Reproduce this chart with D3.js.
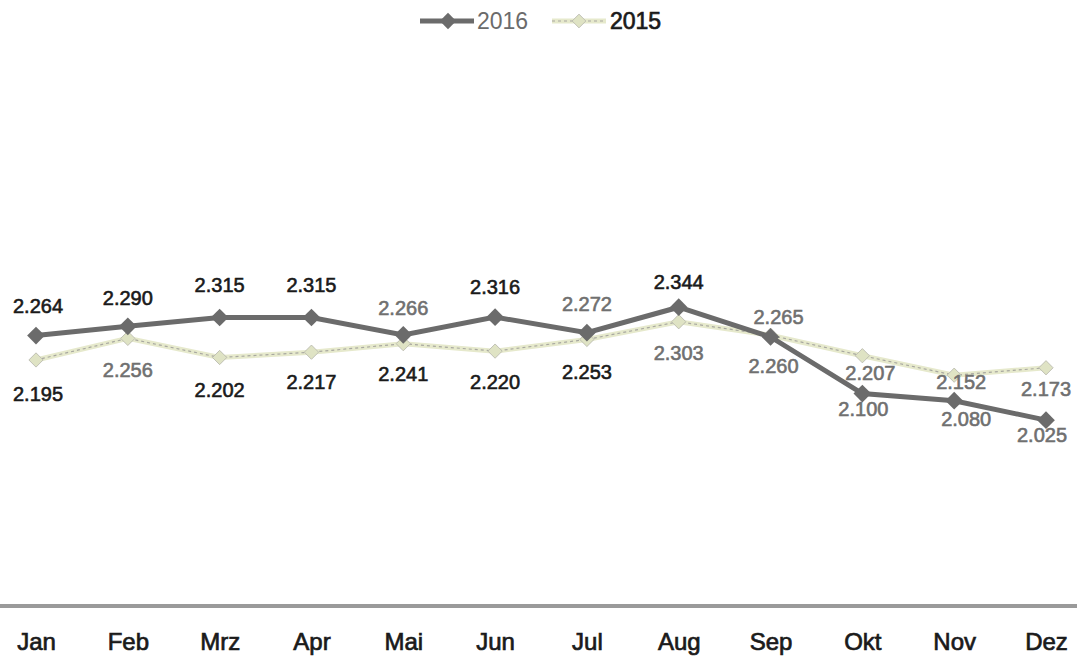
<!DOCTYPE html>
<html>
<head>
<meta charset="utf-8">
<script src="https://cdn.jsdelivr.net/npm/d3@7"></script>
<style>
  body { margin: 0; background: #fff; }
  svg { display: block; font-family: "Liberation Sans", Arial, sans-serif; }
</style>
</head>
<body>
<svg id="chart" width="1077" height="656"></svg>
<script>
const months = ['Jan', 'Feb', 'Mrz', 'Apr', 'Mai', 'Jun', 'Jul', 'Aug', 'Sep', 'Okt', 'Nov', 'Dez'];
const values2016 = [2.264, 2.290, 2.315, 2.315, 2.266, 2.316, 2.272, 2.344, 2.260, 2.100, 2.080, 2.025];
const values2015 = [2.195, 2.256, 2.202, 2.217, 2.241, 2.220, 2.253, 2.303, 2.265, 2.207, 2.152, 2.173];

// label placement (layout only): vertical offset of label centre from point, and dark/grey tone
const dy2016 = [-30, -28, -32, -32, -27, -30, -29, -25, 29, 15, 18, 15];
const dx2016 = [2, 0, 0, 0, 0, 0, 0, 0, 3, 1, 12, -4];
const dark2016 = [1, 1, 1, 1, 0, 1, 0, 1, 0, 0, 0, 0];
const dy2015 = [34, 32, 33, 30, 30, 31, 33, 31, -18, 17, 7, 21];
const dx2015 = [2, 0, 0, 0, 0, 0, 0, 0, 8, 8, 7, 0];
const dark2015 = [1, 0, 1, 1, 1, 1, 1, 0, 0, 0, 0, 0];

const svg = d3.select('#chart');

const x = d3.scalePoint().domain(months).range([36, 1046]);
const y = d3.scaleLinear().domain([1.5, 2.5]).range([606, 252]);

const fmt = v => d3.format('.3f')(v);
const diamond = d3.symbol().type(d3.symbolDiamond2);

// axis baseline
const xAxis = svg.append('g')
  .attr('transform', 'translate(0,606)')
  .call(d3.axisBottom(x).tickSize(0).tickPadding(27));
xAxis.select('.domain').remove();
svg.append('line')
  .attr('x1', 0).attr('x2', 1077)
  .attr('y1', 606).attr('y2', 606)
  .attr('stroke', '#9a9a9a').attr('stroke-width', 4);
xAxis.selectAll('text')
  .attr('font-size', 24)
  .attr('font-family', '"Liberation Sans", Arial, sans-serif')
  .attr('fill', '#1a1a1a')
  .attr('stroke', '#1a1a1a').attr('stroke-width', 0.7);

const line = d3.line().x((d, i) => x(months[i])).y(d => y(d));

// 2015 series: light yellowish line with grey dotted core
svg.append('path').datum(values2015)
  .attr('d', line).attr('fill', 'none')
  .attr('stroke', '#e6e9cc').attr('stroke-width', 5);
svg.append('path').datum(values2015)
  .attr('d', line).attr('fill', 'none')
  .attr('stroke', '#a8a8a0').attr('stroke-width', 1.2)
  .attr('stroke-dasharray', '3,3');
svg.selectAll('.m2015').data(values2015).join('path')
  .attr('class', 'm2015')
  .attr('transform', (d, i) => `translate(${x(months[i])},${y(d)})`)
  .attr('d', diamond.size(130))
  .attr('fill', '#dfe3c4').attr('stroke', '#b5b5ab').attr('stroke-width', 0.8);

// 2016 series
svg.append('path').datum(values2016)
  .attr('d', line).attr('fill', 'none')
  .attr('stroke', '#6b6b6b').attr('stroke-width', 5);
svg.selectAll('.m2016').data(values2016).join('path')
  .attr('class', 'm2016')
  .attr('transform', (d, i) => `translate(${x(months[i])},${y(d)})`)
  .attr('d', diamond.size(200))
  .attr('fill', '#6b6b6b');

// data labels
function labels(vals, dx, dy, dark, cls) {
  svg.selectAll('.' + cls).data(vals).join('text')
    .attr('class', cls)
    .attr('x', (d, i) => x(months[i]) + dx[i])
    .attr('y', (d, i) => y(d) + dy[i])
    .attr('dy', '0.35em')
    .attr('text-anchor', 'middle')
    .attr('font-size', 20)
    .attr('fill', (d, i) => dark[i] ? '#1a1a1a' : '#707070')
    .attr('stroke', (d, i) => dark[i] ? '#1a1a1a' : '#707070')
    .attr('stroke-width', 0.6)
    .text(fmt);
}
labels(values2016, dx2016, dy2016, dark2016, 'l2016');
labels(values2015, dx2015, dy2015, dark2015, 'l2015');

// legend
const lg = svg.append('g').attr('transform', 'translate(0,21)');
lg.append('line').attr('x1', 420).attr('x2', 474).attr('y1', 0).attr('y2', 0)
  .attr('stroke', '#6b6b6b').attr('stroke-width', 5);
lg.append('path').attr('transform', 'translate(448,0)').attr('d', diamond.size(170)).attr('fill', '#6b6b6b');
lg.append('text').attr('x', 477).attr('y', 0).attr('dy', '0.35em')
  .attr('font-size', 23).attr('fill', '#6b6b6b').text('2016');
lg.append('line').attr('x1', 552).attr('x2', 606).attr('y1', 0).attr('y2', 0)
  .attr('stroke', '#e6e9cc').attr('stroke-width', 5);
lg.append('line').attr('x1', 552).attr('x2', 606).attr('y1', 0).attr('y2', 0)
  .attr('stroke', '#a8a8a0').attr('stroke-width', 1.2).attr('stroke-dasharray', '3,3');
lg.append('path').attr('transform', 'translate(579,0)').attr('d', diamond.size(120))
  .attr('fill', '#dfe3c4').attr('stroke', '#b5b5ab').attr('stroke-width', 0.8);
lg.append('text').attr('x', 610).attr('y', 0).attr('dy', '0.35em')
  .attr('font-size', 23).attr('fill', '#1a1a1a')
  .attr('stroke', '#1a1a1a').attr('stroke-width', 0.7).text('2015');
</script>
</body>
</html>
